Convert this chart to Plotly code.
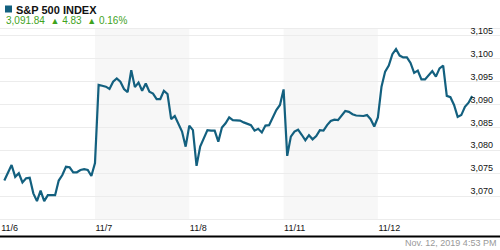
import plotly.graph_objects as go

# ---- data ----
days = ["11/6", "11/7", "11/8", "11/11", "11/12"]
shaded_days = [1, 3]
bar_minutes = list(range(15, 391, 15))  # 15-minute bar closes, 9:45 .. 16:00
session_minutes = 390

prices_1106 = [3073.4, 3075.0, 3076.8, 3074.2, 3075.0, 3073.0, 3073.9, 3074.0, 3070.6, 3068.9,
               3071.2, 3068.9, 3070.2, 3070.2, 3070.2, 3073.4, 3074.6, 3076.4, 3076.3, 3075.2,
               3075.2, 3075.7, 3075.9, 3075.7, 3074.4, 3077.2]
prices_1107 = [3094.3, 3094.1, 3093.9, 3093.4, 3095.0, 3095.7, 3095.0, 3093.4, 3092.7, 3097.5,
               3093.8, 3094.8, 3093.0, 3094.6, 3092.8, 3092.4, 3091.2, 3091.2, 3093.0, 3092.3,
               3086.8, 3087.5, 3085.9, 3084.1, 3080.8, 3085.4]
prices_1108 = [3084.4, 3076.6, 3080.8, 3082.8, 3084.4, 3084.3, 3084.3, 3081.9, 3085.0, 3085.9,
               3087.2, 3086.6, 3086.6, 3086.5, 3086.1, 3085.8, 3085.5, 3084.3, 3084.7, 3083.9,
               3085.4, 3085.5, 3087.3, 3088.8, 3089.9, 3093.3]
prices_1111 = [3078.8, 3083.0, 3084.1, 3084.5, 3083.4, 3082.2, 3083.3, 3082.4, 3083.1, 3084.4,
               3084.3, 3085.5, 3086.4, 3086.7, 3086.6, 3087.5, 3088.6, 3088.4, 3087.9, 3087.6,
               3087.5, 3087.5, 3087.7, 3086.8, 3085.2, 3087.2]
prices_1112 = [3093.9, 3097.2, 3098.5, 3101.0, 3102.1, 3100.7, 3100.3, 3100.3, 3099.1, 3096.9,
               3097.4, 3095.5, 3095.5, 3096.4, 3097.3, 3096.1, 3097.9, 3098.5, 3091.9, 3091.6,
               3089.9, 3087.3, 3087.7, 3089.5, 3090.4, 3091.84]

y_ticks = [3065, 3070, 3075, 3080, 3085, 3090, 3095, 3100, 3105]
y_tick_labels = ["", "3,070", "3,075", "3,080", "3,085", "3,090", "3,095", "3,100", "3,105"]

title_text = "S&P 500 INDEX"
last_price = "3,091.84"
change = "4.83"
change_pct = "0.16%"
timestamp = "Nov. 12, 2019 4:53 PM"

# ---- build ----
all_prices = [prices_1106, prices_1107, prices_1108, prices_1111, prices_1112]
xs, ys = [], []
for d, series in enumerate(all_prices):
    for m, p in zip(bar_minutes, series):
        xs.append(d + m / session_minutes)
        ys.append(p)

LINE = "#13607f"
GREEN = "#3fa31d"
FONT = "Liberation Sans, Arial, sans-serif"

W, H = 500, 250
T, B = 29, 31
PH = H - T - B


def py(p):  # pixel y -> paper y
    return (H - B - p) / PH


fig = go.Figure()
fig.add_trace(go.Scatter(x=xs, y=ys, mode="lines",
                         line=dict(color=LINE, width=2.2), hoverinfo="skip"))

shapes = []
for d in shaded_days:
    shapes.append(dict(type="rect", xref="x", yref="paper", x0=d, x1=d + 1, y0=0, y1=1,
                       fillcolor="#f7f7f7", line=dict(width=0), layer="below"))
shapes.append(dict(type="rect", xref="paper", yref="paper", x0=5 / W, x1=12 / W,
                   y0=py(12.5), y1=py(5.5), fillcolor=LINE, line=dict(width=0)))
shapes.append(dict(type="line", xref="paper", yref="paper", x0=0, x1=1,
                   y0=py(236.5), y1=py(236.5), line=dict(color="black", width=2)))

tri = '<span style="font-size:9px">▲</span>'
annotations = [
    dict(xref="paper", yref="paper", x=14 / W, y=py(9.5), xanchor="left", yanchor="middle",
         text="<b>%s</b>" % title_text, showarrow=False,
         font=dict(family=FONT, size=11, color="#111")),
    dict(xref="paper", yref="paper", x=4 / W, y=py(20.5), xanchor="left", yanchor="middle",
         text="%s  %s %s  %s %s" % (last_price, tri, change, tri, change_pct), showarrow=False,
         font=dict(family=FONT, size=10, color=GREEN)),
    dict(xref="paper", yref="paper", x=498 / W, y=py(243), xanchor="right", yanchor="middle",
         text=timestamp, showarrow=False,
         font=dict(family=FONT, size=9, color="#999")),
]

fig.update_layout(
    width=W, height=H,
    margin=dict(l=0, r=0, t=T, b=B, pad=0),
    paper_bgcolor="white", plot_bgcolor="white",
    showlegend=False,
    shapes=shapes, annotations=annotations,
    xaxis=dict(range=[-0.0074, 5.295], tickvals=list(range(len(days))), ticktext=days,
               ticklabelposition="outside right", showgrid=False, zeroline=False,
               ticks="", showline=True, mirror=True, linecolor="#ececec", linewidth=1,
               tickfont=dict(family=FONT, size=9, color="#111")),
    yaxis=dict(range=[3065, 3106.5], side="right", tickvals=y_ticks, ticktext=y_tick_labels,
               ticklabelposition="inside", ticklabelshift=-5, ticklabelstandoff=4,
               ticklabeloverflow="allow",
               showgrid=True, gridcolor="#ececec", gridwidth=1, zeroline=False, ticks="",
               showline=False, tickfont=dict(family=FONT, size=9, color="#111")),
)

fig.write_html("out.html")
